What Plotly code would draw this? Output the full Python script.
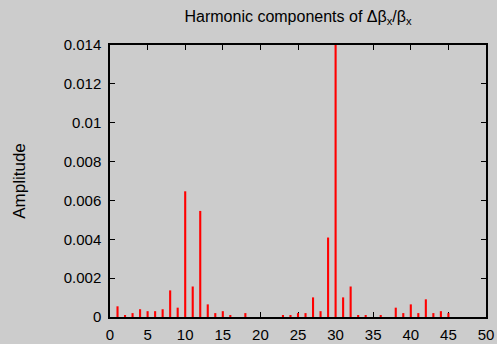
import plotly.graph_objects as go

# Harmonic number and amplitude of each component
harmonics = [1, 2, 3, 4, 5, 6, 7, 8, 9, 10, 11, 12, 13, 14, 15, 16, 18,
             23, 24, 25, 26, 27, 28, 29, 30, 31, 32, 33, 34, 36,
             38, 39, 40, 41, 42, 43, 44, 45]
amplitudes = [0.00055, 0.0001, 0.0002, 0.0004, 0.0003, 0.0003, 0.0004, 0.00137,
              0.00048, 0.00647, 0.00157, 0.00546, 0.00065, 0.0002, 0.0003,
              0.0001, 0.0002,
              0.0001, 0.0001, 0.0002, 0.0002, 0.00101, 0.0003, 0.00409,
              0.0150, 0.00101, 0.00157, 0.0001, 0.0001, 0.0001,
              0.00048, 0.0002, 0.00065, 0.0002, 0.00091, 0.0002, 0.0003, 0.0002]

x_ticks = [0, 5, 10, 15, 20, 25, 30, 35, 40, 45, 50]
y_ticks = [0, 0.002, 0.004, 0.006, 0.008, 0.01, 0.012, 0.014]
y_tick_text = ["0", "0.002", "0.004", "0.006", "0.008", "0.01", "0.012", "0.014"]

bg = "#cccccc"
font_family = "Liberation Sans, Arial, sans-serif"

fig = go.Figure(
    go.Bar(
        x=harmonics,
        y=amplitudes,
        width=0.28,
        marker=dict(color="#ff0000", line=dict(width=0)),
    )
)

fig.update_layout(
    width=497,
    height=344,
    paper_bgcolor=bg,
    plot_bgcolor=bg,
    margin=dict(l=110, r=11, t=45, b=27),
    showlegend=False,
    font=dict(family=font_family, size=15, color="black"),
    title=dict(
        text="Harmonic components of Δβ<sub>x</sub>/β<sub>x</sub>",
        x=0.5, xanchor="center", xref="paper",
        y=1 - 16 / 344, yanchor="middle",
        font=dict(size=16),
    ),
)

axis_style = dict(
    ticks="inside",
    ticklen=5,
    tickwidth=1,
    tickcolor="black",
    showline=True,
    linecolor="black",
    linewidth=1.5,
    mirror="ticks",
    showgrid=False,
    zeroline=False,
    layer="below traces",
    automargin=False,
)

fig.update_xaxes(
    range=[0, 50],
    tickvals=x_ticks,
    ticklabelstandoff=3,
    **axis_style,
)

fig.update_yaxes(
    range=[0, 0.014],
    tickvals=y_ticks,
    ticktext=y_tick_text,
    ticklabelstandoff=4,
    title=dict(text="Amplitude", standoff=34, font=dict(size=17)),
    **axis_style,
)

fig.write_html("out.html")
